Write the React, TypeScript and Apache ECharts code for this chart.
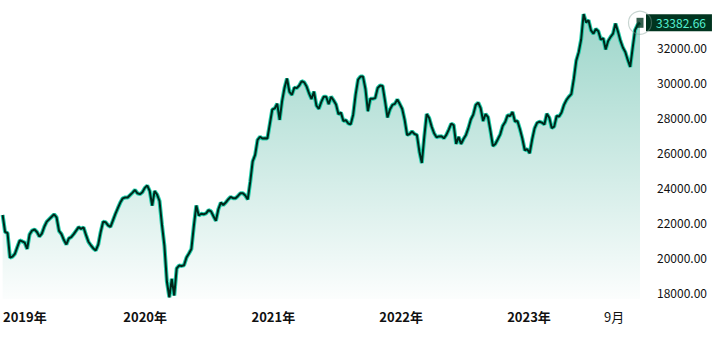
import React, { useEffect, useRef } from "react";
import * as echarts from "echarts";

// Weekly closes, starting 2018-11-20 (one value per week)
const START_DATE = [2018, 10, 20];
const VALUES = [
  22400, 21430, 21370, 19960, 20020, 20180, 20570, 20950, 20890, 20820,
  20460, 21290, 21510, 21570, 21430, 21170, 21340, 21730, 22020, 22160,
  22300, 22440, 22270, 21490, 21310, 20970, 20720, 21060, 21140, 21310,
  21510, 21710, 21610, 21690, 21260, 20870, 20670, 20490, 20380, 20710,
  21430, 22020, 21990, 21810, 21720, 22090, 22460, 22790, 23110, 23350,
  23400, 23400, 23540, 23680, 23830, 23640, 23590, 23700, 23950, 24080,
  23770, 22940, 23770, 23570, 23200, 21830, 20630, 18600, 17700, 18750,
  17800, 19350, 19510, 19490, 19530, 19970, 20200, 20460, 21770, 22940,
  22370, 22470, 22440, 22490, 22680, 22610, 22330, 22070, 22730, 23110,
  22970, 23110, 23290, 23430, 23360, 23360, 23490, 23640, 23640, 23510,
  23290, 24290, 25460, 25830, 26690, 26870, 26770, 26790, 26770, 27600,
  28430, 28490, 28760, 27830, 28910, 29670, 30200, 29430, 29260, 29680,
  29650, 29800, 30050, 29980, 29740, 29350, 29030, 29450, 28650, 28470,
  28860, 29160, 29160, 28730, 29160, 28950, 28710, 28160, 28250, 27770,
  27820, 27630, 27580, 28130, 29280, 30140, 30310, 30310, 29600, 28330,
  29040, 29040, 29080, 29660, 29800, 29770, 28910, 27970, 28430, 28690,
  28750, 29000, 28740, 28460, 27830, 26970, 27030, 27170, 27030, 26970,
  26030, 25370, 26860, 28170, 27940, 27450, 27070, 26840, 26890, 26900,
  26780, 26980, 27280, 27620, 27540, 26460, 26860, 26460, 26740, 26970,
  27370, 27860, 28140, 28690, 28820, 28510, 27770, 28170, 27990, 27200,
  26340, 26460, 26730, 27010, 27490, 27710, 28100, 28060, 28290, 27740,
  27770, 27310, 26770, 26100, 26160, 25930, 26710, 27350, 27660, 27730,
  27680, 27570, 28190, 27960, 27370, 27450, 28060, 28030, 28260, 28690,
  28970, 29160, 29310, 30170, 31220, 31700, 32430, 33880, 33400, 33530,
  32950, 32760, 33030, 32900, 32420, 32500, 31860, 32340, 32570, 32760,
  33340, 32880, 32360, 31970, 31710, 31260, 30860, 31940, 32970, 33260,
  33382.66,
];

// x-axis label dates: [year, monthIndex]
const X_LABEL_DATES = [
  [2019, 0],
  [2020, 0],
  [2021, 0],
  [2022, 0],
  [2023, 0],
  [2023, 8],
];

const Y_MIN = 17600;
const Y_MAX = 34000;

export default function App() {
  const ref = useRef<HTMLDivElement>(null);

  useEffect(() => {
    if (!ref.current) return;
    const chart = echarts.init(ref.current, null, { renderer: "svg" });

    const dates = VALUES.map((_, i) =>
      new Date(START_DATE[0], START_DATE[1], START_DATE[2] + 7 * i).getTime()
    );
    const data = VALUES.map((v, i) => [dates[i], v]);
    const last = data[data.length - 1];
    const labelValues = X_LABEL_DATES.map(([y, m]) => new Date(y, m, 1).getTime());

    const font = '"Noto Sans CJK SC", "Noto Sans", sans-serif';

    chart.setOption({
      animation: false,
      grid: { left: 0, right: 73, top: 12, bottom: 51 },
      xAxis: {
        type: "value",
        min: dates[0],
        max: dates[dates.length - 1],
        axisLine: { show: false },
        axisTick: { show: false },
        splitLine: { show: false },
        axisLabel: {
          customValues: labelValues,
          margin: 11,
          fontFamily: font,
          fontSize: 13,
          color: "#111",
          formatter: (val: number) => {
            const d = new Date(val);
            if (d.getMonth() === 0) {
              const y = d.getFullYear();
              return y === 2019 ? `{y0|${y}年}` : `{y|${y}年}`;
            }
            return `{m|${d.getMonth() + 1}月}`;
          },
          rich: {
            y: { fontWeight: "bold", fontSize: 13, color: "#111", fontFamily: font },
            y0: {
              fontWeight: "bold",
              fontSize: 13,
              color: "#111",
              fontFamily: font,
              padding: [0, 0, 0, 15],
            },
            m: { fontSize: 13, color: "#111", fontFamily: font },
          },
        },
      },
      yAxis: {
        type: "value",
        position: "right",
        min: Y_MIN,
        max: Y_MAX,
        splitNumber: 8,
        axisLine: { show: false },
        axisTick: { show: false },
        splitLine: { show: false },
        axisLabel: {
          showMinLabel: false,
          showMaxLabel: false,
          margin: 17,
          fontFamily: font,
          fontSize: 12,
          color: "#111",
          formatter: (v: number) => v.toFixed(2),
        },
      },
      series: [
        {
          type: "line",
          data,
          showSymbol: false,
          silent: true,
          z: 2,
          lineStyle: { color: "#23cfac", width: 4 },
          areaStyle: {
            color: new echarts.graphic.LinearGradient(0, 0, 0, 1, [
              { offset: 0, color: "rgba(0,148,118,0.55)" },
              { offset: 1, color: "rgba(0,148,118,0.02)" },
            ]),
          },
        },
        {
          type: "line",
          data,
          showSymbol: false,
          silent: true,
          z: 3,
          lineStyle: { color: "#00261a", width: 2 },
          endLabel: {
            show: true,
            distance: 6,
            formatter: () => (last[1] as number).toFixed(2),
            backgroundColor: "#00341f",
            color: "#55f0d2",
            fontFamily: font,
            fontSize: 12,
            lineHeight: 13,
            padding: [2, 6, 2, 10],
          },
        },
        {
          type: "scatter",
          data: [last],
          symbol: "circle",
          symbolSize: 23,
          silent: true,
          z: 4,
          itemStyle: {
            color: "rgba(0,0,0,0)",
            borderColor: "rgba(130,160,150,0.55)",
            borderWidth: 1.2,
          },
        },
        {
          type: "scatter",
          data: [last],
          symbol: "rect",
          symbolSize: [7, 10],
          silent: true,
          z: 5,
          itemStyle: { color: "#00341f" },
        },
      ],
    });

    return () => chart.dispose();
  }, []);

  return (
    <div
      ref={ref}
      style={{ position: "absolute", left: 0, top: 0, width: 713, height: 350 }}
    />
  );
}
